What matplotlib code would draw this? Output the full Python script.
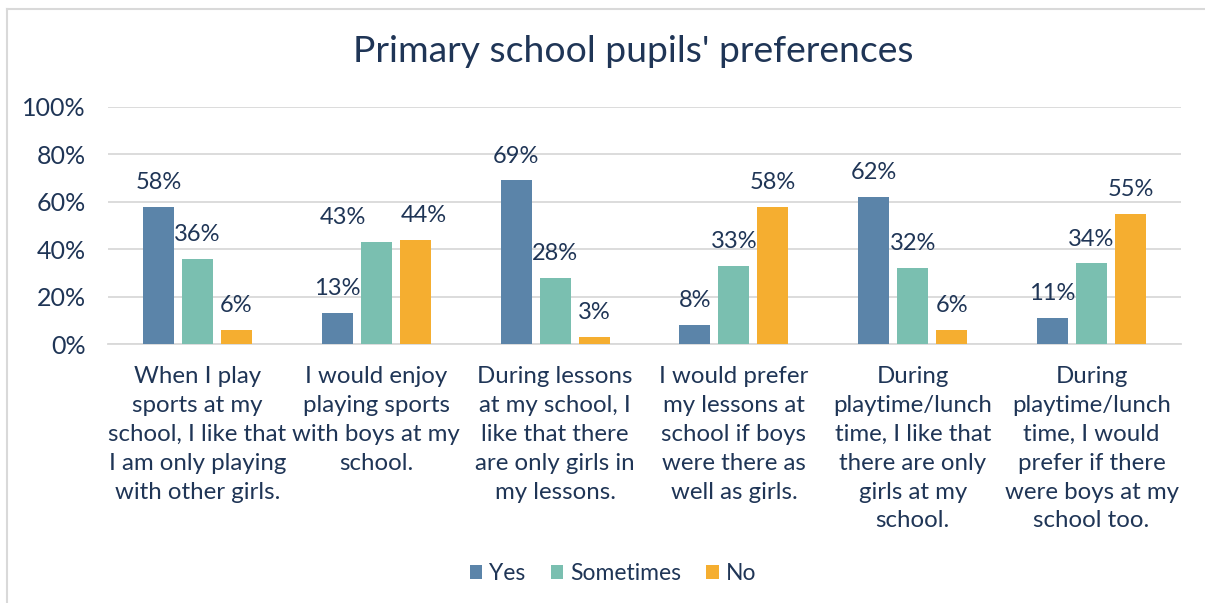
import matplotlib
matplotlib.use("Agg")
import matplotlib.pyplot as plt
from matplotlib.lines import Line2D
import numpy as np

categories = [
    "When I play\nsports at my\nschool, I like that\nI am only playing\nwith other girls.",
    "I would enjoy\nplaying sports\nwith boys at my\nschool.",
    "During lessons\nat my school, I\nlike that there\nare only girls in\nmy lessons.",
    "I would prefer\nmy lessons at\nschool if boys\nwere there as\nwell as girls.",
    "During\nplaytime/lunch\ntime, I like that\nthere are only\ngirls at my\nschool.",
    "During\nplaytime/lunch\ntime, I would\nprefer if there\nwere boys at my\nschool too.",
]
series_names = ["Yes", "Sometimes", "No"]
yes = [58, 13, 69, 8, 62, 11]
sometimes = [36, 43, 28, 33, 32, 34]
no = [6, 44, 3, 58, 6, 55]
yticks = [0, 20, 40, 60, 80, 100]

# manual horizontal nudges (pixels) of a few data labels, as in the reference
label_nudge = {(1, 1): -33, (2, 1): 9}

colors = ["#5B84A9", "#7ABFB0", "#F5AE30"]
txt = "#1F3556"
plt.rcParams['font.family'] = ['Lato', 'DejaVu Sans']

fig = plt.figure(figsize=(12.05, 6.03), dpi=100)
ax = fig.add_axes([108/1205, 1-344/603, (1181-108)/1205, (344-107)/603])

x = np.arange(len(categories))
width = 0.173
offs = [-0.218, 0, 0.218]
for si, (vals, name, c, o) in enumerate(zip([yes, sometimes, no], series_names, colors, offs)):
    bars = ax.bar(x + o, vals, width, color=c, label=name, zorder=3)
    for i, (b, v) in enumerate(zip(bars, vals)):
        dx = label_nudge.get((si, i), 0) * 72 / 100
        ax.annotate(f"{v}%", (b.get_x() + b.get_width()/2, v), xytext=(dx, 17.5),
                    textcoords="offset points", ha="center", va="center",
                    fontsize=17, color=txt)

ax.set_xlim(-0.5, len(categories) - 0.5)
ax.set_ylim(0, 100)
ax.set_yticks(yticks)
ax.set_yticklabels([f"{t}%" for t in yticks], fontsize=18, color=txt)
ax.yaxis.grid(True, color="#D9D9D9", linewidth=1.3, zorder=0)
ax.set_xticks(x)
ax.set_xticklabels(categories, fontsize=17.3, color=txt, linespacing=1.46, va="top")
ax.tick_params(axis="both", length=0)
ax.tick_params(axis="y", pad=16)
ax.tick_params(axis="x", pad=16)
for s in ["top", "right", "left"]:
    ax.spines[s].set_visible(False)
ax.spines["bottom"].set_color("#D9D9D9")
ax.spines["bottom"].set_linewidth(1.3)

fig.text(633/1205, 1-52/603, "Primary school pupils' preferences", ha="center", va="center",
         fontsize=26.8, color=txt)

leg = fig.legend(loc="center", bbox_to_anchor=(613/1205, 1-574/603), ncol=3, frameon=False,
                 fontsize=16.5, handlelength=0.55, handleheight=0.55, handletextpad=0.3,
                 columnspacing=1.1)
for t in leg.get_texts():
    t.set_color(txt)

fig.add_artist(Line2D([7/1205, 7/1205], [0, 1-9/603], color="#D9D9D9", linewidth=1.5, transform=fig.transFigure))
fig.add_artist(Line2D([7/1205, 1], [1-9/603, 1-9/603], color="#D9D9D9", linewidth=1.5, transform=fig.transFigure))

fig.savefig("out.png", dpi=100)
